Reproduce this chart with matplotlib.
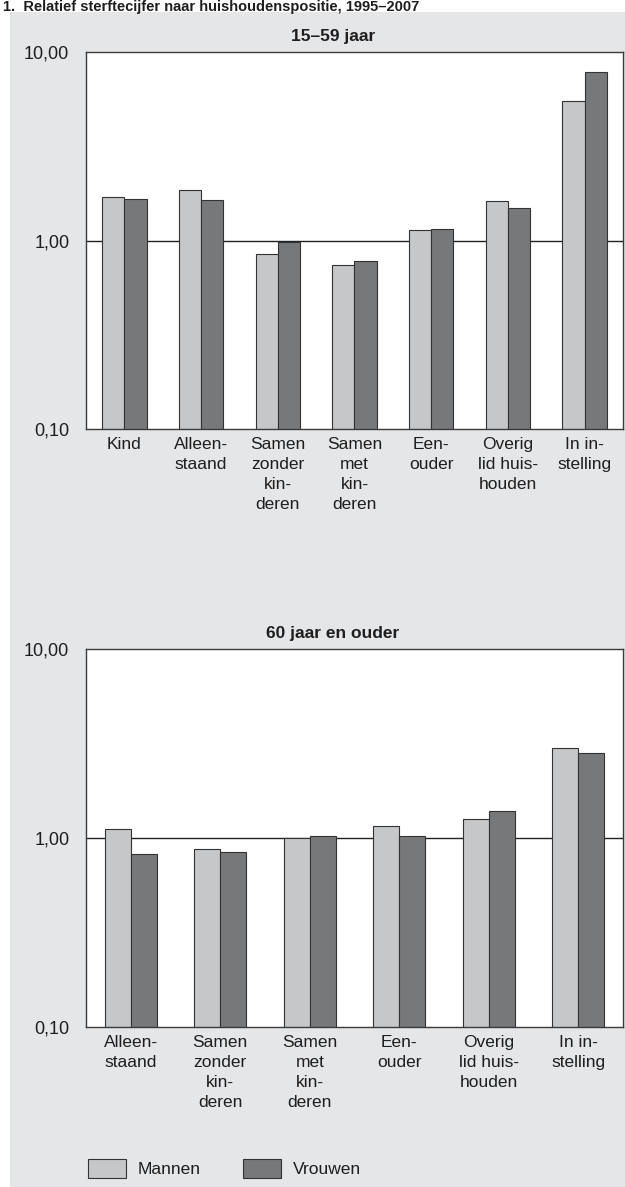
import numpy as np
import matplotlib
matplotlib.use("Agg")
import matplotlib.pyplot as plt
from matplotlib.patches import Rectangle, Patch
from matplotlib.ticker import FixedLocator, NullLocator

plt.rcParams['font.family'] = ['Liberation Sans', 'DejaVu Sans']

# Relative mortality by household position, 1995-2007
title_main = "1.  Relatief sterftecijfer naar huishoudenspositie, 1995–2007"

young_title = "15–59 jaar"
young_cats = ["Kind", "Alleen-\nstaand", "Samen\nzonder\nkin-\nderen",
              "Samen\nmet\nkin-\nderen", "Een-\nouder",
              "Overig\nlid huis-\nhouden", "In in-\nstelling"]
young_men = [1.71, 1.86, 0.85, 0.74, 1.13, 1.62, 5.49]
young_women = [1.67, 1.64, 0.98, 0.78, 1.15, 1.48, 7.82]

old_title = "60 jaar en ouder"
old_cats = ["Alleen-\nstaand", "Samen\nzonder\nkin-\nderen",
            "Samen\nmet\nkin-\nderen", "Een-\nouder",
            "Overig\nlid huis-\nhouden", "In in-\nstelling"]
old_men = [1.12, 0.87, 1.00, 1.16, 1.26, 2.99]
old_women = [0.82, 0.84, 1.02, 1.03, 1.39, 2.81]

y_ticks = [0.1, 1.0, 10.0]
y_ticklabels = ["0,10", "1,00", "10,00"]
series_names = ["Mannen", "Vrouwen"]

LIGHT = "#c6c7c9"
DARK = "#77787a"
EDGE = "#333333"
BG = "#e5e6e8"
TEXT = "#1e1e1e"
FS = 12.5

W, H = 625, 1187
fig = plt.figure(figsize=(W / 100, H / 100), dpi=100, facecolor="white")

# grey panel behind the charts
fig.patches.append(Rectangle((10 / W, 0), 1 - 10 / W, 1 - 12 / H,
                             transform=fig.transFigure, facecolor=BG,
                             edgecolor="none", zorder=-5))

fig.text(3 / W, 1 - 10.5 / H, title_main, fontsize=10.5, fontweight="bold",
         color=TEXT, ha="left", va="baseline")


def px_axes(left, top, right, bottom):
    return fig.add_axes([left / W, 1 - bottom / H, (right - left) / W,
                         (bottom - top) / H])


def draw_panel(ax, title, cats, men, women):
    n = len(cats)
    x = np.arange(n)
    bw = 0.29
    ax.set_facecolor("white")
    ax.set_yscale("log")
    ax.set_ylim(0.1, 10)
    ax.set_xlim(-0.5, n - 0.5)
    ax.axhline(1.0, color="#222222", lw=1.0, zorder=1)
    ax.bar(x - bw / 2, men, width=bw, color=LIGHT, edgecolor=EDGE,
           linewidth=0.8, zorder=2)
    ax.bar(x + bw / 2, women, width=bw, color=DARK, edgecolor=EDGE,
           linewidth=0.8, zorder=2)
    ax.yaxis.set_major_locator(FixedLocator(y_ticks))
    ax.yaxis.set_minor_locator(NullLocator())
    ax.set_yticklabels(y_ticklabels)
    ax.set_xticks(x)
    ax.set_xticklabels(cats, linespacing=1.42)
    ax.tick_params(axis="y", length=0, pad=12, labelsize=FS + 0.5,
                   labelcolor=TEXT)
    ax.tick_params(axis="x", length=0, pad=6, labelsize=FS, labelcolor=TEXT)
    for s in ax.spines.values():
        s.set_color("#3a3a3a")
        s.set_linewidth(1.0)
    ax.set_title(title, fontsize=FS, fontweight="bold", color=TEXT, pad=8,
                 x=0.46)


ax1 = px_axes(86, 52, 623, 429)
draw_panel(ax1, young_title, young_cats, young_men, young_women)

ax2 = px_axes(86, 649, 623, 1027)
draw_panel(ax2, old_title, old_cats, old_men, old_women)

handles = [Patch(facecolor=LIGHT, edgecolor=EDGE, linewidth=0.8),
           Patch(facecolor=DARK, edgecolor=EDGE, linewidth=0.8)]
fig.legend(handles, series_names, loc="upper left",
           bbox_to_anchor=(72 / W, 1 - 1143 / H), ncol=2, frameon=False,
           fontsize=FS, handlelength=2.2, handleheight=1.3,
           handletextpad=0.7, columnspacing=2.4, labelcolor=TEXT)

fig.savefig("out.png", dpi=100, facecolor="white")
